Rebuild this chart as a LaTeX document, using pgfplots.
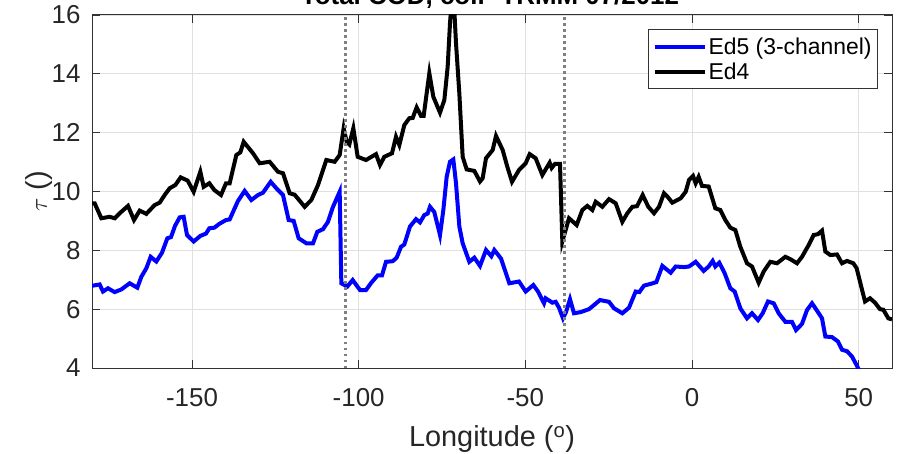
\documentclass[border=0pt]{standalone}
\usepackage{fontspec}
\setmainfont{Liberation Sans}
\usepackage{pgfplots}
\pgfplotsset{compat=1.18}
\begin{document}
\begin{tikzpicture}[x=1bp,y=1bp]
\begin{axis}[
  at={(92bp,86bp)}, anchor=south west,
  scale only axis, width=800bp, height=353bp,
  xmin=-180, xmax=60, ymin=4, ymax=16,
  xtick={-150,-100,-50,0,50}, ytick={4,6,8,10,12,14,16},
  /pgf/number format/assume math mode=true,
  tick align=inside, major tick length=8bp,
  tick style={black!80, line width=0.8bp},
  axis line style={black!80, line width=1bp},
  grid=major, major grid style={black!12, line width=0.8bp},
  ticklabel style={font=\fontsize{26}{30}\selectfont, text=black!85},
  xticklabel style={yshift=-17bp},
  yticklabel style={xshift=-8bp},
  xlabel={Longitude (\textsuperscript{o})},
  ylabel={$\tau$ ()},
  label style={font=\fontsize{29}{33}\selectfont, text=black!85},
  xlabel style={yshift=-12bp},
  ylabel style={yshift=-8bp},
  legend style={at={(0.9825,0.96)}, anchor=north east, draw=black!80, line width=0.8bp,
    font=\fontsize{23}{27}\selectfont, inner xsep=4bp, inner ysep=6bp, row sep=3bp},
  legend cell align=left,
  legend image code/.code={\draw[#1] (0bp,0bp) -- (50bp,0bp);},
]
\addplot[blue, line width=4bp] coordinates {
(-180,6.8) (-179.7,6.80) (-177.7,6.84) (-176.7,6.60) (-175.2,6.71) (-173.2,6.58) (-171.2,6.67) (-168.7,6.88) (-166.4,6.73) (-165.2,7.10) (-163.7,7.39) (-162.4,7.78) (-160.7,7.62) (-159.0,7.92) (-157.4,8.41) (-156.3,8.45) (-155.1,8.83) (-153.7,9.12) (-152.5,9.14) (-151.5,8.52) (-149.5,8.30) (-147.5,8.49) (-145.8,8.57) (-144.8,8.75) (-143.3,8.77) (-141.8,8.90) (-139.8,9.03) (-138.7,9.05) (-137.2,9.43) (-136.2,9.68) (-134.2,10.02) (-132.2,9.71) (-130.2,9.88) (-128.7,9.96) (-126.4,10.33) (-124.7,10.11) (-122.7,9.88) (-121.0,9.03) (-119.5,9.0) (-118.0,8.41) (-115.7,8.24) (-113.7,8.24) (-112.4,8.63) (-110.7,8.72) (-109.2,8.97) (-107.7,9.48) (-105.7,9.99) (-105.2,6.88) (-103.4,6.77) (-101.8,6.99) (-99.6,6.65) (-97.8,6.65) (-96.2,6.90) (-94.3,7.15) (-93.0,7.15) (-91.8,7.61) (-89.8,7.63) (-88.6,7.75) (-87.3,8.12) (-86.3,8.2) (-84.6,8.81) (-82.8,9.06) (-81.6,8.95) (-80.3,9.20) (-79.3,9.25) (-78.6,9.48) (-77.3,9.3) (-75.6,8.52) (-74.6,9.37) (-73.6,10.50) (-72.6,11.01) (-71.6,11.09) (-70.8,10.28) (-69.8,8.81) (-68.8,8.24) (-66.8,7.61) (-65.3,7.75) (-63.6,7.47) (-61.8,8.01) (-60.2,7.8) (-59.3,8.01) (-57.3,7.72) (-54.8,6.88) (-51.9,6.94) (-49.9,6.60) (-47.6,6.82) (-46.2,6.6) (-44.4,6.20) (-43.9,6.37) (-41.9,6.22) (-40.9,6.25) (-39.9,6.05) (-38.7,5.69) (-37.8,5.9) (-36.6,6.34) (-35.4,5.86) (-33.4,5.9) (-30.9,6.0) (-29.4,6.14) (-27.6,6.31) (-24.9,6.25) (-23.4,6.03) (-20.9,5.86) (-18.9,6.05) (-16.9,6.60) (-15.8,6.58) (-14.4,6.80) (-12.4,6.86) (-10.7,6.92) (-8.9,7.47) (-6.4,7.24) (-4.9,7.45) (-2.4,7.43) (-0.9,7.45) (1.1,7.61) (3.5,7.30) (5.0,7.45) (6.2,7.64) (7.0,7.45) (8.2,7.58) (9.8,7.22) (11.5,6.71) (12.8,6.6) (14.5,6.03) (16.5,5.69) (18.0,5.86) (19.8,5.63) (21.2,5.86) (22.8,6.26) (24.5,6.2) (26.0,5.86) (28.0,5.57) (30.0,5.57) (31.2,5.29) (33.0,5.5) (34.5,5.97) (36.0,6.20) (37.5,5.95) (39.0,5.69) (40.0,5.07) (42.0,5.05) (43.8,4.90) (45.0,4.62) (46.5,4.57) (48.0,4.39) (49.6,4.05) (50.2,3.9)
};
\addlegendentry{Ed5 (3-channel)}
\addplot[black, line width=4bp] coordinates {
(-180,9.6) (-179.2,9.6) (-177.2,9.09) (-174.7,9.14) (-173.2,9.09) (-171.7,9.26) (-169.2,9.51) (-167.4,9.03) (-165.7,9.35) (-163.7,9.24) (-161.2,9.54) (-159.7,9.62) (-158.2,9.88) (-156.7,10.11) (-155.0,10.22) (-153.4,10.48) (-151.3,10.37) (-149.5,9.99) (-147.5,10.67) (-146.5,10.16) (-144.8,10.28) (-143.3,10.05) (-141.3,9.88) (-139.8,10.28) (-138.7,10.28) (-136.7,11.24) (-135.5,11.33) (-134.5,11.69) (-131.7,11.30) (-129.7,10.96) (-126.7,11.01) (-124.2,10.67) (-122.7,10.62) (-120.7,9.94) (-119.2,9.89) (-116.2,9.48) (-114.2,9.71) (-112.2,10.22) (-109.7,11.07) (-107.2,11.01) (-105.7,11.24) (-104.5,12.15) (-103.6,11.69) (-102.8,11.6) (-101.6,12.15) (-100.3,11.18) (-97.8,11.07) (-94.8,11.27) (-93.6,10.90) (-92.3,11.18) (-90.0,11.30) (-88.8,11.86) (-87.8,11.58) (-86.3,12.26) (-84.8,12.49) (-83.8,12.5) (-82.6,12.86) (-81.3,12.57) (-80.5,12.57) (-78.8,14.02) (-77.6,13.22) (-75.6,12.68) (-74.3,13.11) (-73.3,14.24) (-72.6,15.72) (-72.0,16.6) (-71.5,16.6) (-70.8,15.04) (-69.8,13.34) (-68.8,11.18) (-67.6,10.75) (-65.3,10.70) (-63.6,10.34) (-62.8,10.45) (-61.8,11.13) (-59.8,11.41) (-58.8,11.89) (-56.8,11.41) (-55.4,10.84) (-54.0,10.33) (-51.9,10.73) (-49.9,10.96) (-48.7,11.27) (-46.9,11.13) (-44.9,10.56) (-42.7,10.98) (-42.1,10.8) (-41.1,10.94) (-39.6,10.94) (-38.9,8.30) (-36.9,9.09) (-34.6,8.86) (-32.9,9.37) (-31.4,9.51) (-29.9,9.37) (-28.9,9.65) (-26.9,9.48) (-24.9,9.74) (-22.9,9.6) (-20.9,8.97) (-19.4,9.26) (-17.9,9.48) (-16.5,9.5) (-14.8,9.88) (-13.1,9.48) (-11.4,9.26) (-9.9,9.48) (-8.4,9.94) (-7.4,9.83) (-5.9,9.62) (-3.4,9.77) (-1.9,9.99) (-0.9,10.39) (0.3,10.53) (1.1,10.28) (2.0,10.5) (3.0,10.19) (5.0,10.17) (7.0,9.43) (8.5,9.37) (10.0,9.03) (11.5,8.77) (13.0,8.69) (14.5,8.12) (16.5,7.56) (18.0,7.45) (20.0,6.90) (21.5,7.28) (23.5,7.61) (25.5,7.56) (28.0,7.78) (29.5,7.7) (31.5,7.56) (33.0,7.78) (35.0,8.18) (36.5,8.52) (37.8,8.55) (39.0,8.67) (40.0,7.96) (41.5,7.84) (43.5,7.86) (45.0,7.56) (46.5,7.64) (48.4,7.56) (49.4,7.39) (51.9,6.26) (53.4,6.37) (54.9,6.22) (56.4,6.0) (57.4,5.98) (58.9,5.69) (60,5.65)
};
\addlegendentry{Ed4}
\addplot[black!50, line width=2.5bp, dash pattern=on 2.5bp off 3.5bp, forget plot] coordinates {(-104,4) (-104,16)};
\addplot[black!50, line width=2.5bp, dash pattern=on 2.5bp off 3.5bp, forget plot] coordinates {(-38.2,4) (-38.2,16)};
\end{axis}
\node[anchor=base, font=\fontsize{26}{30}\selectfont\bfseries] at (490bp,449bp) {Total COD, coll- TRMM 07/2012};
\pgfresetboundingbox
\path[use as bounding box] (0,0) rectangle (904bp,454bp);
\end{tikzpicture}
\end{document}
